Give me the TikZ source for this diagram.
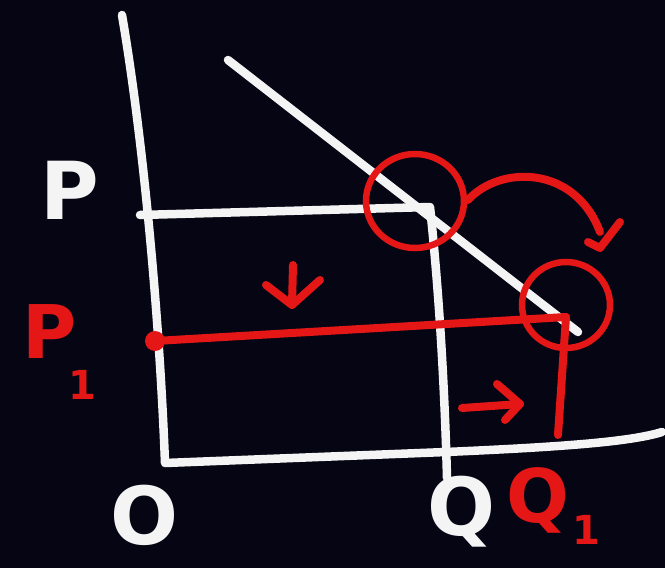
\documentclass[tikz,border=0pt]{standalone}
\usepackage{fontspec}
\setmainfont{DejaVu Sans}
\usetikzlibrary{arrows.meta}
\definecolor{bg}{RGB}{5,5,20}
\definecolor{chalk}{RGB}{244,244,244}
\definecolor{redc}{RGB}{228,22,22}
\begin{document}
\begin{tikzpicture}[x=1pt,y=-1pt,
  chalkline/.style={draw=chalk,line width=8.5pt,line cap=round,line join=round},
  redline/.style={draw=redc,line width=8pt,line cap=round,line join=round},
  redring/.style={draw=redc,line width=6.5pt},
  wlabel/.style={text=chalk,inner sep=0pt,font=\bfseries\fontsize{80}{80}\selectfont},
  rlabel/.style={text=redc,inner sep=0pt,font=\bfseries\fontsize{74}{74}\selectfont},
  sublabel/.style={text=redc,inner sep=0pt,font=\bfseries\fontsize{40}{40}\selectfont}]
\fill[bg] (0,0) rectangle (665,568);
\useasboundingbox (0,0) rectangle (665,568);
% coordinates
\coordinate (ytop) at (122,15);
\coordinate (O) at (165,463);
\coordinate (qx) at (446,452);
\coordinate (xend) at (662,432);
\coordinate (dtop) at (228,60);
\coordinate (dbot) at (578,332);
\coordinate (pstart) at (140,215);
\coordinate (E) at (430,207);
\coordinate (qfoot) at (447,478);
\coordinate (p1) at (155,341);
\coordinate (E1) at (566,317);
\coordinate (q1foot) at (558,435);
% white axes and curve
\draw[chalkline] (ytop) .. controls (145,150) and (160,330) .. (O) -- (qx) .. controls (560,447) and (630,442) .. (xend);
\draw[chalkline] (dtop) -- (dbot);
\draw[chalkline] (pstart) -- (E) .. controls (440,300) and (445,400) .. (qfoot);
% labels
\node[wlabel] (lP) at (70,190) {P};
\node[wlabel] (lO) at (145,515) {O};
\node[wlabel] (lQ) at (462,512) {Q};
\node[rlabel] (lP1) at (50,332) {P};
\node[sublabel] (lP1s) at (82,385) {1};
\node[rlabel] (lQ1) at (538,500) {Q};
\node[sublabel] (lQ1s) at (586,530) {1};
% red lines
\fill[redc] (p1) circle (10);
\draw[redline] (p1) -- (E1);
\draw[redline] (E1) -- (q1foot);
\draw[redring] (415,201) ellipse (49 and 47);
\draw[redring] (566,305) ellipse (44 and 43);
% curved arrow
\coordinate (ca1) at (468,200);
\coordinate (ca2) at (600,232);
\draw[redline] (ca1) .. controls (500,165) and (575,165) .. (ca2);
\draw[redline] (588,242) -- (600,248) -- (620,222);
% down arrow
\coordinate (da1) at (293,265);
\coordinate (da2) at (292,305);
\draw[redline] (da1) -- (da2);
\draw[redline] (266,285) -- (da2) -- (320,280);
% right arrow
\coordinate (ra1) at (462,408);
\coordinate (ra2) at (520,404);
\draw[redline] (ra1) -- (ra2);
\draw[redline] (497,384) -- (ra2) -- (505,420);
\end{tikzpicture}
\end{document}
